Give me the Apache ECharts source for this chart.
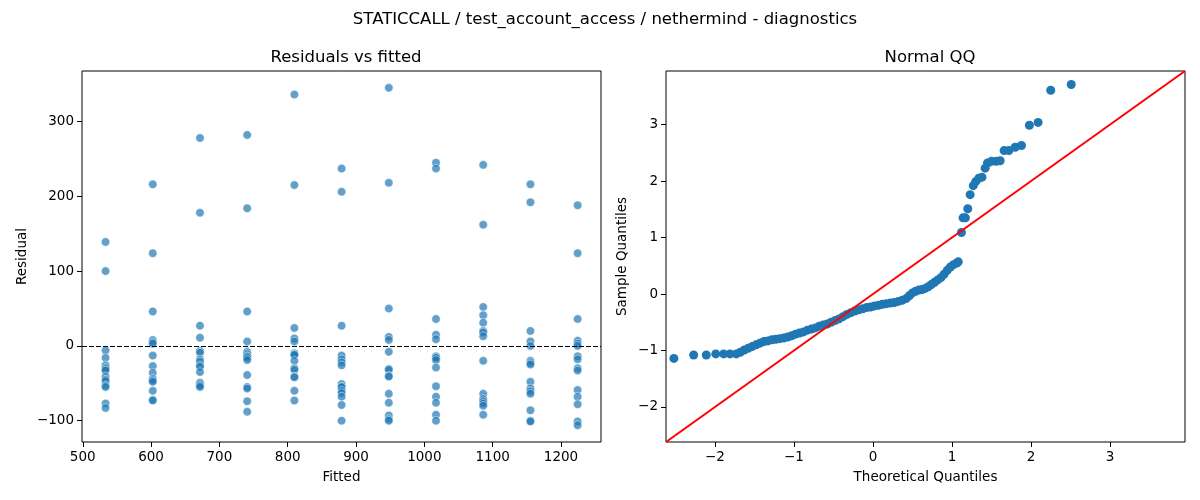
<!DOCTYPE html>
<html>
<head>
<meta charset="utf-8">
<script src="https://cdn.jsdelivr.net/npm/echarts@6/dist/echarts.min.js"></script>
<style>
  html, body { margin: 0; padding: 0; background: #fff; }
  #chart { width: 1200px; height: 500px; }
</style>
</head>
<body>
<div id="chart"></div>
<script>
// fitted levels (one column of residuals per level)
const fitted = [533.4, 602.5, 671.6, 740.7, 809.8, 878.9, 948.0, 1017.1, 1086.2, 1155.3, 1224.4];
const residuals = [
    [139, 100, -6, -16, -26, -29, -31, -33, -41, -45, -47, -53, -55, -77, -83],
    [216, 124, 46, 8, 5, 3, -13, -27, -36, -44, -46, -48, -60, -72, -73],
    [278, 178, 27, 11, -7, -9, -18, -21, -26, -28, -35, -49, -51, -53, -55],
    [282, 184, 46, 6, -8, -11, -14, -14, -16, -19, -39, -55, -57, -74, -88],
    [336, 215, 24, 10, 6, -10, -12, -12, -20, -30, -32, -41, -42, -60, -73],
    [237, 206, 27, -13, -18, -22, -26, -51, -55, -55, -60, -63, -68, -79, -100],
    [345, 218, 50, 12, 8, -8, -31, -32, -40, -41, -64, -76, -93, -98, -100],
    [245, 237, 36, 15, 9, -14, -15, -16, -19, -29, -54, -68, -76, -92, -100],
    [242, 162, 52, 41, 31, 20, 18, 13, -20, -64, -71, -74, -77, -80, -92],
    [216, 192, 20, 6, 0, -20, -23, -25, -48, -57, -61, -64, -86, -100, -101],
    [188, 124, 36, 7, 3, 0, -14, -18, -30, -33, -59, -68, -78, -101, -106]
];

// normal QQ points
const qqTheoretical = [
    -2.52, -2.27, -2.11, -1.99, -1.89, -1.81,
    -1.73, -1.68, -1.63, -1.58, -1.53, -1.48, -1.43, -1.38, -1.33, -1.28, -1.23, -1.18, -1.13, -1.08,
    -1.03, -0.98, -0.93, -0.88, -0.83, -0.78, -0.73, -0.68, -0.63, -0.58, -0.53, -0.48, -0.43, -0.38,
    -0.33, -0.28, -0.23, -0.18, -0.13, -0.08, -0.03, 0.02, 0.07, 0.12, 0.17, 0.22, 0.27, 0.32, 0.37,
    0.42, 0.46, 0.50, 0.54, 0.58, 0.62, 0.66, 0.70, 0.74, 0.78, 0.82, 0.86, 0.90, 0.94, 0.98, 1.02, 1.06, 1.08,
    1.12, 1.14, 1.17, 1.20, 1.23, 1.27, 1.30, 1.34, 1.38, 1.42, 1.45, 1.50, 1.56, 1.61, 1.66, 1.72,
    1.80, 1.88, 1.98, 2.09, 2.25, 2.51
];
const qqSample = [
    -1.14, -1.08, -1.08, -1.06, -1.06, -1.06,
    -1.06, -1.03, -0.99, -0.96, -0.93, -0.90, -0.87, -0.84, -0.83, -0.81, -0.80, -0.79, -0.78, -0.76,
    -0.74, -0.71, -0.69, -0.67, -0.64, -0.62, -0.60, -0.57, -0.55, -0.53, -0.50, -0.47, -0.44, -0.40,
    -0.36, -0.33, -0.30, -0.28, -0.26, -0.24, -0.23, -0.21, -0.20, -0.18, -0.17, -0.16, -0.15, -0.13, -0.11,
    -0.08, -0.03, 0.02, 0.05, 0.07, 0.08, 0.10, 0.13, 0.17, 0.21, 0.25, 0.29, 0.35, 0.42, 0.48, 0.52, 0.55, 0.57,
    1.09, 1.35, 1.35, 1.51, 1.76, 1.92, 1.99, 2.05, 2.07, 2.23, 2.32, 2.35, 2.35, 2.36, 2.54, 2.54,
    2.60, 2.63, 2.99, 3.04, 3.61, 3.71
];
const refLine = [-2.62, 3.95];

const fittedRange = [498.9, 1258.6];
const residualRange = [-128.5, 367.5];
const fittedTicks = [500, 600, 700, 800, 900, 1000, 1100, 1200];
const residualTicks = [-100, 0, 100, 200, 300];
const qqTicks = [-2, -1, 0, 1, 2, 3];

const FONT = 'DejaVu Sans';
const minus = v => String(v).replace('-', '\u2212');

function valueAxis(gridIndex, range, ticks, name, gap, rotate) {
    return {
        type: 'value',
        gridIndex: gridIndex,
        min: range[0],
        max: range[1],
        name: name,
        nameLocation: 'middle',
        nameGap: gap,
        nameRotate: rotate,
        nameTextStyle: {color: '#000', fontFamily: FONT, fontSize: 13.5},
        axisLine: {show: false, onZero: false},
        splitLine: {show: false},
        axisTick: {show: true, length: 5, customValues: ticks, lineStyle: {color: '#000', width: 1}},
        axisLabel: {
            customValues: ticks, color: '#000', fontFamily: FONT, fontSize: 13.5, margin: 8,
            formatter: minus
        }
    };
}

const scatterData = [];
fitted.forEach(function (f, i) {
    residuals[i].forEach(function (r) {
        scatterData.push([f, r]);
    });
});
const qqData = qqTheoretical.map((t, i) => [t, qqSample[i]]);

const chart = echarts.init(document.getElementById('chart'));
chart.setOption({
    animation: false,
    backgroundColor: '#fff',
    title: [
        {text: 'STATICCALL / test_account_access / nethermind - diagnostics', left: 600, top: 6, textAlign: 'center',
            textStyle: {fontFamily: FONT, fontSize: 16.5, fontWeight: 'normal', color: '#000'}},
        {text: 'Residuals vs fitted', left: 341, top: 44, textAlign: 'center',
            textStyle: {fontFamily: FONT, fontSize: 16.5, fontWeight: 'normal', color: '#000'}},
        {text: 'Normal QQ', left: 925, top: 44, textAlign: 'center',
            textStyle: {fontFamily: FONT, fontSize: 16.5, fontWeight: 'normal', color: '#000'}}
    ],
    grid: [
        {left: 82, right: 599, top: 71, bottom: 58, show: true, borderColor: '#000', borderWidth: 1, backgroundColor: 'transparent'},
        {left: 666, right: 15, top: 71, bottom: 58, show: true, borderColor: '#000', borderWidth: 1, backgroundColor: 'transparent'}
    ],
    xAxis: [
        valueAxis(0, fittedRange, fittedTicks, 'Fitted', 28, 0),
        valueAxis(1, refLine, qqTicks, 'Theoretical Quantiles', 28, 0)
    ],
    yAxis: [
        valueAxis(0, residualRange, residualTicks, 'Residual', 53, 90),
        valueAxis(1, refLine, qqTicks, 'Sample Quantiles', 37, 90)
    ],
    series: [
        {
            type: 'scatter',
            xAxisIndex: 0,
            yAxisIndex: 0,
            data: scatterData,
            symbolSize: 8.5,
            itemStyle: {color: '#1f77b4', opacity: 0.7, borderColor: '#fff', borderWidth: 0.7},
            markLine: {
                silent: true,
                symbol: 'none',
                label: {show: false},
                lineStyle: {color: '#000', type: [5, 2], width: 1.2},
                data: [{yAxis: 0}]
            }
        },
        {
            type: 'scatter',
            xAxisIndex: 1,
            yAxisIndex: 1,
            data: qqData,
            symbolSize: 9,
            itemStyle: {color: '#1f77b4', opacity: 1}
        },
        {
            type: 'line',
            xAxisIndex: 1,
            yAxisIndex: 1,
            data: [[refLine[0], refLine[0]], [refLine[1], refLine[1]]],
            showSymbol: false,
            z: 5,
            lineStyle: {color: '#ff0000', width: 2}
        }
    ]
});
</script>
</body>
</html>
